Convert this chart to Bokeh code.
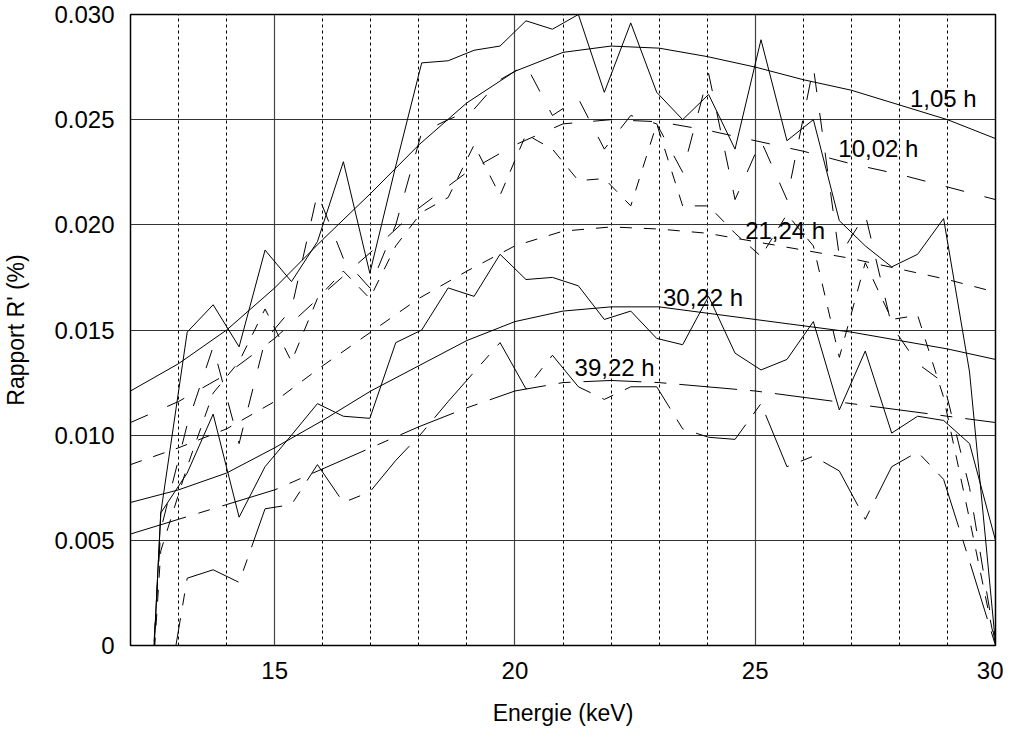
from bokeh.plotting import figure
from bokeh.models import Range1d, FixedTicker, CustomJSTickFormatter, Label
from bokeh.embed import file_html
from bokeh.resources import INLINE

# ---- data ----
energy = [12.09, 12.63, 13.18, 13.72, 14.26, 14.80, 15.35, 15.89, 16.43, 16.98,
          17.52, 18.06, 18.61, 19.15, 19.69, 20.23, 20.78, 21.32, 21.86, 22.41,
          22.95, 23.49, 24.03, 24.58, 25.12, 25.66, 26.21, 26.75, 27.29, 27.84,
          28.38, 28.92, 29.46, 30.00]

r_1_05 = [-0.0185, 0.0063, 0.0149, 0.0162, 0.0142, 0.0188, 0.0173, 0.0192, 0.0230, 0.0177,
          0.0228, 0.0277, 0.0278, 0.0283, 0.0285, 0.0297, 0.0293, 0.0300, 0.0263, 0.0296,
          0.0263, 0.0250, 0.0262, 0.0236, 0.0288, 0.0240, 0.0250, 0.0202, 0.0190, 0.0180,
          0.0186, 0.0203, 0.0130, 0.0001]
r_10_02 = [-0.015, 0.0055, 0.0105, 0.0142, 0.0096, 0.0145, 0.0160, 0.0215, 0.0184, 0.0170,
           0.0200, 0.0244, 0.0250, 0.0255, 0.0269, 0.0276, 0.0252, 0.0260, 0.0236, 0.0252,
           0.0248, 0.0225, 0.0272, 0.0212, 0.0240, 0.0212, 0.0275, 0.0185, 0.0205, 0.0152,
           0.0134, 0.0125, 0.0075, 0.0000]
r_21_24 = [-0.015, 0.0045, 0.0085, 0.0120, 0.0135, 0.0160, 0.0135, 0.0165, 0.0178, 0.0165,
           0.0190, 0.0206, 0.0213, 0.0238, 0.0214, 0.0243, 0.0236, 0.0221, 0.0222, 0.0209,
           0.0248, 0.0209, 0.0209, 0.0196, 0.0185, 0.0205, 0.0190, 0.0137, 0.0182, 0.0155,
           0.0157, 0.0118, 0.0060, 0.0000]
r_30_22 = [-0.0185, 0.0063, 0.0082, 0.0110, 0.0061, 0.0085, 0.0100, 0.0115, 0.0109, 0.0108,
           0.0144, 0.0150, 0.0170, 0.0166, 0.0186, 0.0174, 0.0175, 0.0171, 0.0155, 0.0159,
           0.0146, 0.0143, 0.0166, 0.0139, 0.0131, 0.0136, 0.0154, 0.0112, 0.0140, 0.0101,
           0.0109, 0.0107, 0.0096, 0.0050]
r_39_22 = [-0.015, -0.0043, 0.0032, 0.0036, 0.0030, 0.0065, 0.0067, 0.0086, 0.0068, 0.0073,
           0.0088, 0.0101, 0.0116, 0.0130, 0.0144, 0.0122, 0.0138, 0.0123, 0.0117, 0.0123,
           0.0123, 0.0103, 0.0099, 0.0098, 0.0115, 0.0085, 0.0090, 0.0083, 0.0060, 0.0085,
           0.0092, 0.0079, 0.0040, 0.0000]

fit_energy = [12, 13, 14, 15, 16, 17, 18, 19, 20, 21, 22, 23, 24, 25, 26, 27, 28, 29, 30]
fit_1_05 = [0.0121, 0.0134, 0.0150, 0.0170, 0.0193, 0.0215, 0.0238, 0.0258, 0.0273, 0.0282,
            0.0285, 0.0284, 0.0280, 0.0275, 0.0269, 0.0264, 0.0257, 0.0250, 0.0241]
fit_10_02 = [0.0106, 0.0116, 0.0129, 0.0146, 0.0167, 0.0187, 0.0208, 0.0225, 0.0238, 0.0248,
             0.0250, 0.0249, 0.0245, 0.0240, 0.0235, 0.0229, 0.0224, 0.0218, 0.0212]
fit_21_24 = [0.0086, 0.0094, 0.0103, 0.0116, 0.0133, 0.0149, 0.0165, 0.0178, 0.0190, 0.0197,
             0.0199, 0.0198, 0.0196, 0.0192, 0.0188, 0.0184, 0.0179, 0.0174, 0.0168]
fit_30_22 = [0.0068, 0.0074, 0.0082, 0.0094, 0.0107, 0.0121, 0.0133, 0.0145, 0.0154, 0.0159,
             0.0161, 0.0161, 0.0158, 0.0155, 0.0152, 0.0149, 0.0145, 0.0141, 0.0136]
fit_39_22 = [0.0053, 0.0060, 0.0067, 0.0074, 0.0084, 0.0094, 0.0104, 0.0113, 0.0121, 0.0125,
             0.0126, 0.0125, 0.0123, 0.0121, 0.0118, 0.0115, 0.0112, 0.0109, 0.0106]

series_labels = ["1,05 h", "10,02 h", "21,24 h", "30,22 h", "39,22 h"]
label_x = [28.22, 26.73, 24.79, 23.08, 21.24]
label_y = [0.0260, 0.02364, 0.01972, 0.01655, 0.01324]

x_major = [15, 20, 25, 30]
x_minor = [13, 14, 16, 17, 18, 19, 21, 22, 23, 24, 26, 27, 28, 29]
y_ticks = [0.0, 0.005, 0.010, 0.015, 0.020, 0.025, 0.030]

FONT = "Liberation Sans"

p = figure(width=1003, height=728, x_range=Range1d(12, 30), y_range=Range1d(0, 0.030),
           output_backend="svg", toolbar_location=None,
           min_border_left=130, min_border_right=8, min_border_top=14, min_border_bottom=80)
p.title.visible = False
p.background_fill_color = "white"
p.border_fill_color = "white"
p.outline_line_color = "black"
p.outline_line_width = 1.5

p.xaxis.ticker = FixedTicker(ticks=x_major, minor_ticks=x_minor)
p.yaxis.ticker = FixedTicker(ticks=y_ticks)
p.yaxis.formatter = CustomJSTickFormatter(code="return tick == 0 ? '0' : tick.toFixed(3);")

for ax in (p.xaxis[0], p.yaxis[0]):
    ax.axis_line_color = None
    ax.major_tick_line_color = None
    ax.minor_tick_line_color = None
    ax.major_label_text_font = FONT
    ax.major_label_text_font_size = "24px"
    ax.major_label_text_color = "black"
    ax.axis_label_text_font = FONT
    ax.axis_label_text_font_size = "23px"
    ax.axis_label_text_font_style = "normal"
    ax.axis_label_text_color = "black"
    ax.major_label_standoff = 10
p.xaxis.axis_label = "Energie (keV)"
p.yaxis.axis_label = "Rapport R' (%)"
p.xaxis.axis_label_standoff = 18
p.yaxis.axis_label_standoff = 22

p.xgrid.grid_line_color = "#444444"
p.xgrid.grid_line_width = 1.2
p.xgrid.minor_grid_line_color = "black"
p.xgrid.minor_grid_line_dash = "3 3"
p.xgrid.minor_grid_line_width = 1
p.ygrid.grid_line_color = "#333333"
p.ygrid.grid_line_width = 1.2

# data lines
p.line(energy, r_1_05, line_color="black", line_width=1)
p.line(energy, r_10_02, line_color="black", line_width=1, line_dash="19 21")
p.line(energy, r_21_24, line_color="black", line_width=1, line_dash="12 12")
p.line(energy, r_30_22, line_color="black", line_width=1)
p.line(energy, r_39_22, line_color="black", line_width=1, line_dash="58 13 12 13")

# fitted curves
p.line(fit_energy, fit_1_05, line_color="black", line_width=1)
p.line(fit_energy, fit_10_02, line_color="black", line_width=1, line_dash="19 21")
p.line(fit_energy, fit_21_24, line_color="black", line_width=1, line_dash="12 12")
p.line(fit_energy, fit_30_22, line_color="black", line_width=1)
p.line(fit_energy, fit_39_22, line_color="black", line_width=1, line_dash="58 13 12 13")

for t, lx, ly in zip(series_labels, label_x, label_y):
    p.add_layout(Label(x=lx, y=ly, text=t, text_font=FONT, text_font_size="24px",
                       text_baseline="middle", text_align="left", text_color="black"))

open("out.html", "w").write(file_html(p, INLINE))
